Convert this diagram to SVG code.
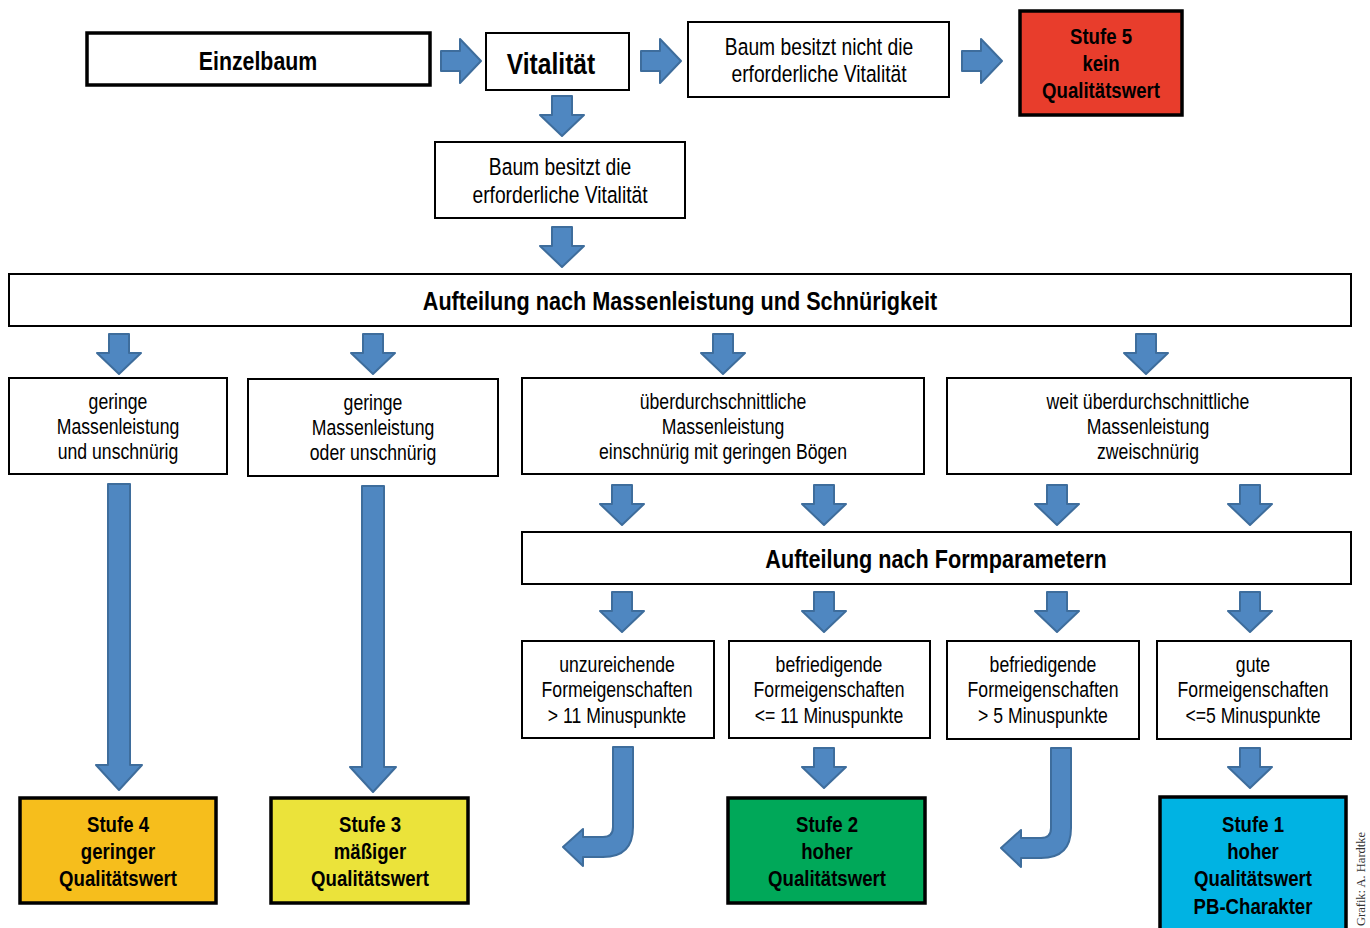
<svg xmlns="http://www.w3.org/2000/svg" xmlns:xlink="http://www.w3.org/1999/xlink" width="1370" height="928" viewBox="0 0 1370 928">
<style>
.box{fill:#fff;stroke:#000;stroke-width:2}
.thick{stroke-width:3.5}
.arr{fill:#4f87c1;stroke:#3e6d9c;stroke-width:2;stroke-linejoin:round}
text{font-family:"Liberation Sans",Arial,sans-serif;text-anchor:middle;fill:#000}
.t{font-size:21.5px}
.tl{font-size:23.5px}
.h{font-size:26.4px;font-weight:bold}
.s{font-size:22.7px;font-weight:bold}
.credit{font-family:"Liberation Serif",serif;font-size:12.5px;text-anchor:start;fill:#333}
</style>
<defs>
<path id="ad" d="M-10,0 H10 V19 H22 L0,40 L-22,19 H-10 Z"/>
</defs>
<rect width="1370" height="928" fill="#fff"/>

<g id="connectors">
<use xlink:href="#ad" class="arr" transform="translate(441,61) rotate(-90)"/>
<use xlink:href="#ad" class="arr" transform="translate(641,61) rotate(-90)"/>
<use xlink:href="#ad" class="arr" transform="translate(962,61) rotate(-90)"/>
<use xlink:href="#ad" class="arr" transform="translate(562,96)"/>
<use xlink:href="#ad" class="arr" transform="translate(562,227)"/>
<use xlink:href="#ad" class="arr" transform="translate(119,334)"/>
<use xlink:href="#ad" class="arr" transform="translate(373,334)"/>
<use xlink:href="#ad" class="arr" transform="translate(723,334)"/>
<use xlink:href="#ad" class="arr" transform="translate(1146,334)"/>
<use xlink:href="#ad" class="arr" transform="translate(622,485)"/>
<use xlink:href="#ad" class="arr" transform="translate(824,485)"/>
<use xlink:href="#ad" class="arr" transform="translate(1057,485)"/>
<use xlink:href="#ad" class="arr" transform="translate(1250,485)"/>
<use xlink:href="#ad" class="arr" transform="translate(622,592)"/>
<use xlink:href="#ad" class="arr" transform="translate(824,592)"/>
<use xlink:href="#ad" class="arr" transform="translate(1057,592)"/>
<use xlink:href="#ad" class="arr" transform="translate(1250,592)"/>
<use xlink:href="#ad" class="arr" transform="translate(824,748)"/>
<use xlink:href="#ad" class="arr" transform="translate(1250,748)"/>
<path class="arr" d="M108,484 H130 V765 H142 L119,790 L96,765 H108 Z"/>
<path class="arr" d="M362,486 H384 V767 H396 L373,792 L350,767 H362 Z"/>
<path class="arr" d="M613,747 H633 V827 Q633,857 603,857 H583 V866 L563,847 L583,829 V837 H603 Q613,837 613,827 Z"/>
<path class="arr" transform="translate(438,1)" d="M613,747 H633 V827 Q633,857 603,857 H583 V866 L563,847 L583,829 V837 H603 Q613,837 613,827 Z"/>
</g>

<g id="einzelbaum"><rect class="box thick" x="87" y="33" width="343" height="52"/><text class="h" transform="translate(258,70) scale(0.82,1)" style="font-size:26px">Einzelbaum</text></g>
<g id="vitalitaet"><rect class="box" x="486" y="33" width="143" height="57"/><text class="h" transform="translate(551,74) scale(0.82,1)" style="font-size:30px">Vitalität</text></g>
<g id="nicht"><rect class="box" x="688" y="22" width="261" height="75"/><text class="tl" transform="translate(819,55) scale(0.82,1)">Baum besitzt nicht die</text><text class="tl" transform="translate(819,82) scale(0.82,1)">erforderliche Vitalität</text></g>
<g id="stufe5"><rect class="box thick" x="1020" y="11" width="162" height="104" style="fill:#e83d2c"/><text class="s" transform="translate(1101,44) scale(0.82,1)">Stufe 5</text><text class="s" transform="translate(1101,71) scale(0.82,1)">kein</text><text class="s" transform="translate(1101,98) scale(0.82,1)">Qualitätswert</text></g>
<g id="besitzt"><rect class="box" x="435" y="142" width="250" height="76"/><text class="tl" transform="translate(560,175) scale(0.82,1)">Baum besitzt die</text><text class="tl" transform="translate(560,203) scale(0.82,1)">erforderliche Vitalität</text></g>
<g id="aufteilung1"><rect class="box" x="9" y="274" width="1342" height="52"/><text class="h" transform="translate(680,310) scale(0.82,1)">Aufteilung nach Massenleistung und Schnürigkeit</text></g>
<g id="gering-und"><rect class="box" x="9" y="378" width="218" height="96"/><text class="t" transform="translate(118,409) scale(0.82,1)">geringe</text><text class="t" transform="translate(118,434) scale(0.82,1)">Massenleistung</text><text class="t" transform="translate(118,459) scale(0.82,1)">und unschnürig</text></g>
<g id="gering-oder"><rect class="box" x="248" y="379" width="250" height="97"/><text class="t" transform="translate(373,410) scale(0.82,1)">geringe</text><text class="t" transform="translate(373,435) scale(0.82,1)">Massenleistung</text><text class="t" transform="translate(373,460) scale(0.82,1)">oder unschnürig</text></g>
<g id="ueber"><rect class="box" x="522" y="378" width="402" height="96"/><text class="t" transform="translate(723,409) scale(0.82,1)">überdurchschnittliche</text><text class="t" transform="translate(723,434) scale(0.82,1)">Massenleistung</text><text class="t" transform="translate(723,459) scale(0.82,1)">einschnürig mit geringen Bögen</text></g>
<g id="weit"><rect class="box" x="947" y="378" width="404" height="96"/><text class="t" transform="translate(1148,409) scale(0.82,1)">weit überdurchschnittliche</text><text class="t" transform="translate(1148,434) scale(0.82,1)">Massenleistung</text><text class="t" transform="translate(1148,459) scale(0.82,1)">zweischnürig</text></g>
<g id="aufteilung2"><rect class="box" x="522" y="532" width="829" height="52"/><text class="h" transform="translate(936,568) scale(0.82,1)">Aufteilung nach Formparametern</text></g>
<g id="unzureichend"><rect class="box" x="522" y="641" width="192" height="97"/><text class="t" transform="translate(617,672) scale(0.82,1)">unzureichende</text><text class="t" transform="translate(617,697) scale(0.82,1)">Formeigenschaften</text><text class="t" transform="translate(617,723) scale(0.82,1)">&gt; 11 Minuspunkte</text></g>
<g id="befr1"><rect class="box" x="729" y="641" width="201" height="97"/><text class="t" transform="translate(829,672) scale(0.82,1)">befriedigende</text><text class="t" transform="translate(829,697) scale(0.82,1)">Formeigenschaften</text><text class="t" transform="translate(829,723) scale(0.82,1)">&lt;= 11 Minuspunkte</text></g>
<g id="befr2"><rect class="box" x="947" y="641" width="192" height="98"/><text class="t" transform="translate(1043,672) scale(0.82,1)">befriedigende</text><text class="t" transform="translate(1043,697) scale(0.82,1)">Formeigenschaften</text><text class="t" transform="translate(1043,723) scale(0.82,1)">&gt; 5 Minuspunkte</text></g>
<g id="gute"><rect class="box" x="1157" y="641" width="194" height="98"/><text class="t" transform="translate(1253,672) scale(0.82,1)">gute</text><text class="t" transform="translate(1253,697) scale(0.82,1)">Formeigenschaften</text><text class="t" transform="translate(1253,723) scale(0.82,1)">&lt;=5 Minuspunkte</text></g>
<g id="stufe4"><rect class="box thick" x="20" y="798" width="196" height="105" style="fill:#f6be1c"/><text class="s" transform="translate(118,832) scale(0.82,1)">Stufe 4</text><text class="s" transform="translate(118,859) scale(0.82,1)">geringer</text><text class="s" transform="translate(118,886) scale(0.82,1)">Qualitätswert</text></g>
<g id="stufe3"><rect class="box thick" x="271" y="798" width="197" height="105" style="fill:#ebe33a"/><text class="s" transform="translate(370,832) scale(0.82,1)">Stufe 3</text><text class="s" transform="translate(370,859) scale(0.82,1)">mäßiger</text><text class="s" transform="translate(370,886) scale(0.82,1)">Qualitätswert</text></g>
<g id="stufe2"><rect class="box thick" x="728" y="798" width="197" height="105" style="fill:#00a859"/><text class="s" transform="translate(827,832) scale(0.82,1)">Stufe 2</text><text class="s" transform="translate(827,859) scale(0.82,1)">hoher</text><text class="s" transform="translate(827,886) scale(0.82,1)">Qualitätswert</text></g>
<g id="stufe1"><rect class="box thick" x="1160" y="797" width="186" height="140" style="fill:#00b3e3"/><text class="s" transform="translate(1253,832) scale(0.82,1)">Stufe 1</text><text class="s" transform="translate(1253,859) scale(0.82,1)">hoher</text><text class="s" transform="translate(1253,886) scale(0.82,1)">Qualitätswert</text><text class="s" transform="translate(1253,914) scale(0.82,1)">PB-Charakter</text></g>
<text class="credit" transform="translate(1365,926) rotate(-90)">Grafik: A. Hardtke</text>
</svg>
